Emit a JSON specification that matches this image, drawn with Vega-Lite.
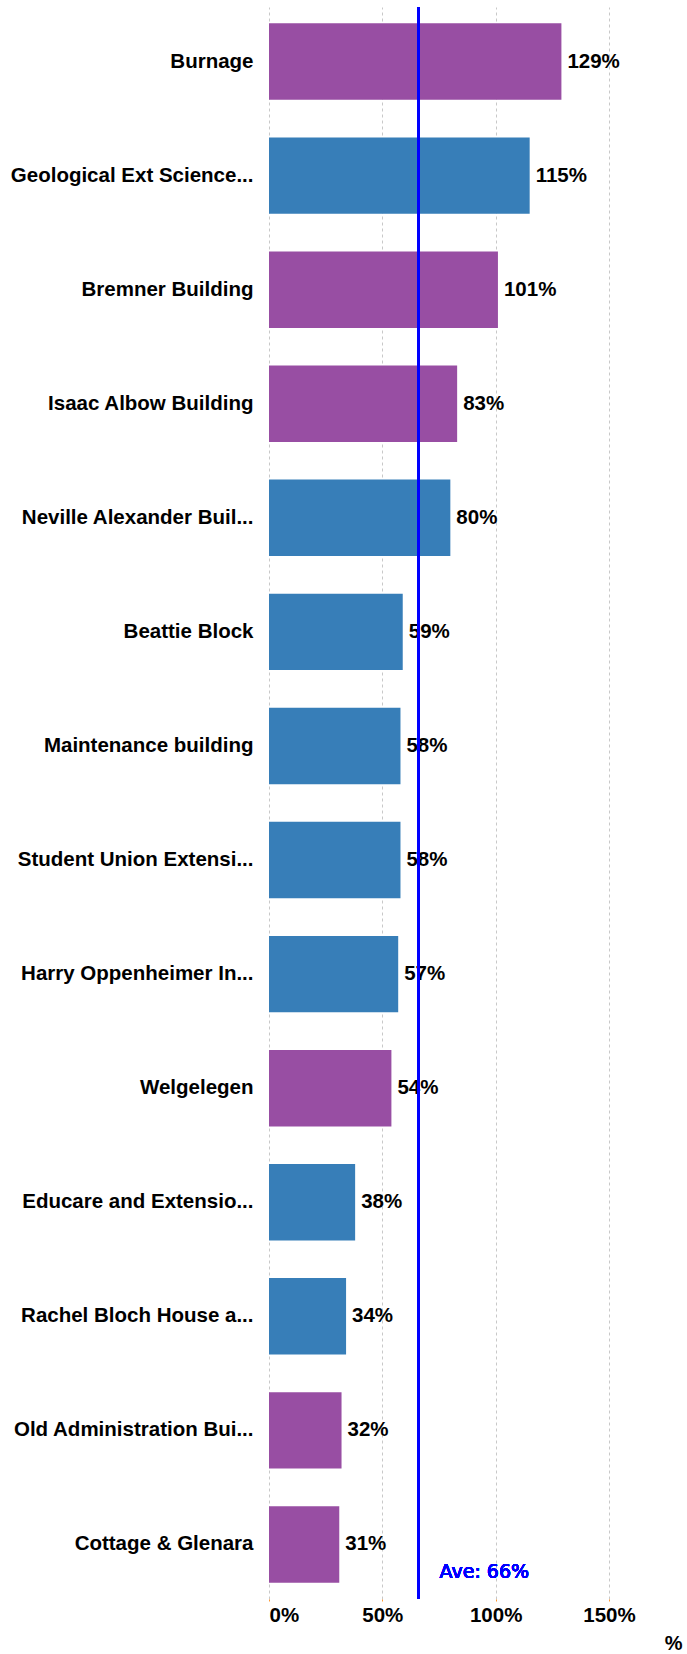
{
  "$schema": "https://vega.github.io/schema/vega-lite/v6.json",
  "width": 413,
  "height": 1592,
  "autosize": {"type": "none"},
  "padding": {"left": 269, "top": 7, "right": 5, "bottom": 55},
  "background": "white",
  "config": {
    "view": {"stroke": null},
    "font": "Liberation Sans"
  },
  "data": {
    "values": [
      {"building": "Burnage", "pct": 1.29, "group": "Group A"},
      {"building": "Geological Ext Science...", "pct": 1.15, "group": "Group B"},
      {"building": "Bremner Building", "pct": 1.01, "group": "Group A"},
      {"building": "Isaac Albow Building", "pct": 0.83, "group": "Group A"},
      {"building": "Neville Alexander Buil...", "pct": 0.80, "group": "Group B"},
      {"building": "Beattie Block", "pct": 0.59, "group": "Group B"},
      {"building": "Maintenance building", "pct": 0.58, "group": "Group B"},
      {"building": "Student Union Extensi...", "pct": 0.58, "group": "Group B"},
      {"building": "Harry Oppenheimer In...", "pct": 0.57, "group": "Group B"},
      {"building": "Welgelegen", "pct": 0.54, "group": "Group A"},
      {"building": "Educare and Extensio...", "pct": 0.38, "group": "Group B"},
      {"building": "Rachel Bloch House a...", "pct": 0.34, "group": "Group B"},
      {"building": "Old Administration Bui...", "pct": 0.32, "group": "Group A"},
      {"building": "Cottage & Glenara", "pct": 0.31, "group": "Group A"}
    ]
  },
  "encoding": {
    "y": {
      "field": "building",
      "type": "nominal",
      "sort": null,
      "title": null,
      "scale": {"paddingInner": 0.33, "paddingOuter": 0.143},
      "axis": {
        "domain": false,
        "ticks": false,
        "labelPadding": 16,
        "labelFont": "Liberation Sans",
        "labelFontSize": 20.5,
        "labelFontWeight": "bold",
        "labelColor": "#000000",
        "labelLimit": 400
      }
    }
  },
  "layer": [
    {
      "mark": {"type": "bar"},
      "encoding": {
        "x": {
          "field": "pct",
          "type": "quantitative",
          "title": "%",
          "scale": {"domain": [0, 1.822], "nice": false, "zero": true},
          "axis": {
            "values": [0, 0.5, 1, 1.5],
            "format": ".0%",
            "domain": false,
            "grid": true,
            "gridColor": "#c8c8c8",
            "gridDash": [3, 3],
            "gridWidth": 1,
            "ticks": true,
            "tickSize": 2,
            "tickColor": "#ff9933",
            "labelPadding": 4,
            "labelFont": "Liberation Sans",
            "labelFontSize": 20.5,
            "labelFontWeight": "bold",
            "labelColor": "#000000",
            "titleFont": "Liberation Sans",
            "titleFontSize": 20,
            "titleFontWeight": "bold",
            "titleColor": "#000000",
            "titleAnchor": "end",
            "titlePadding": 8
          }
        },
        "color": {
          "field": "group",
          "type": "nominal",
          "scale": {"domain": ["Group A", "Group B"], "range": ["#984EA3", "#377EB8"]},
          "legend": null
        }
      }
    },
    {
      "mark": {
        "type": "text",
        "align": "left",
        "baseline": "middle",
        "dx": 6,
        "font": "Liberation Sans",
        "fontSize": 20.5,
        "fontWeight": "bold",
        "color": "#000000"
      },
      "encoding": {
        "x": {"field": "pct", "type": "quantitative"},
        "text": {"field": "pct", "type": "quantitative", "format": ".0%"}
      }
    },
    {
      "mark": {"type": "rule", "color": "#0000ff", "strokeWidth": 2.5},
      "encoding": {
        "x": {"datum": 0.66},
        "y": null
      }
    },
    {
      "mark": {
        "type": "text",
        "align": "left",
        "baseline": "middle",
        "dx": 21,
        "dy": 28,
        "font": "DejaVu Sans",
        "fontSize": 19,
        "fontWeight": "normal",
        "color": "#0000ff"
      },
      "encoding": {
        "x": {"datum": 0.66},
        "y": {"datum": "Cottage & Glenara"},
        "text": {"value": "Ave: 66%"}
      }
    }
  ]
}
